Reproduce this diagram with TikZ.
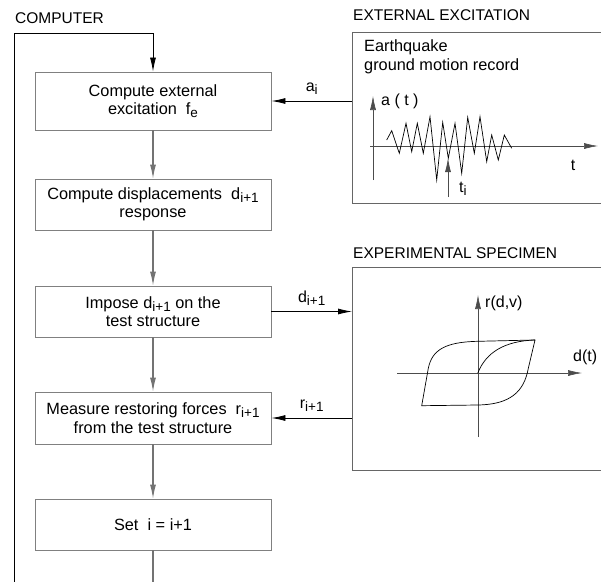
\documentclass[tikz,border=0pt]{standalone}
\usepackage{fontspec}
\setmainfont{Liberation Sans}
\usetikzlibrary{arrows.meta}
\newcommand\sbs[1]{\raisebox{-0.35ex}{\fontsize{13.5}{13.5}\selectfont #1}}
\tikzset{
  tip/.style={-{Latex[length=14pt,width=6pt]}},
  stepbox/.style={draw=black!50, line width=0.9pt, minimum width=236pt, minimum height=52pt, align=center, font=\fontsize{16.3}{18.5}\selectfont, inner sep=0pt},
  flow/.style={draw=black!55, line width=1.1pt, tip},
  link/.style={draw=black, line width=0.8pt, tip},
  frame/.style={draw=black!60, line width=0.9pt},
  title/.style={anchor=west, font=\fontsize{15.5}{17}\selectfont, inner sep=0pt},
  lbl/.style={font=\fontsize{16}{18}\selectfont, inner sep=0pt},
  axis/.style={draw=black!70, line width=0.6pt},
}
\begin{document}
\begin{tikzpicture}[x=1pt,y=-1pt]
\useasboundingbox (0,0) rectangle (601,581);
% titles
\node[title] (tcomp) at (15,18) {COMPUTER};
\node[title] (text) at (353,15) {EXTERNAL EXCITATION};
\node[title] (tspec) at (353,253) {EXPERIMENTAL SPECIMEN};
% boxes
\node[stepbox, minimum height=58pt] (b1) at (153,101) {Compute external\\excitation\ \ f\sbs{e}};
\node[stepbox, minimum height=51pt] (b2) at (153,204.5) {Compute displacements\ \ d\sbs{i+1}\\response};
\node[stepbox, minimum height=51pt] (b3) at (153,311.5) {Impose d\sbs{i+1} on the\\test structure};
\node[stepbox, minimum height=52pt] (b4) at (153,418) {Measure restoring forces\ \ r\sbs{i+1}\\from the test structure};
\node[stepbox, minimum height=51pt] (b5) at (153,524.5) {Set\ \ i = i+1};
% flow arrows
\draw[flow] (b1.south) -- (b2.north);
\draw[flow] (b2.south) -- (b3.north);
\draw[flow] (b3.south) -- (b4.north);
\draw[flow] (b4.south) -- (b5.north);
% loop
\coordinate (lb) at (153,582);
\coordinate (ll) at (14,582);
\coordinate (tl) at (14,33);
\coordinate (tr) at (153,33);
\draw[draw=black!55, line width=1.1pt] (b5.south) -- (lb);
\draw[draw=black, line width=1pt] (ll) -- (tl) -- (tr);
\draw[draw=black, line width=0.8pt, tip] (tr) -- (b1.north);
% external boxes
\node[frame, minimum width=252pt, minimum height=171pt, anchor=north west, inner sep=0pt] (ext) at (352,32) {};
\node[frame, minimum width=252pt, minimum height=203pt, anchor=north west, inner sep=0pt] (spec) at (352,267) {};
% links
\draw[link] (ext.west |- b1.east) -- node[lbl, above=6pt] (la) {a\sbs{i}} (b1.east);
\draw[link] (b3.east) -- node[lbl, above=6pt] (ld) {d\sbs{i+1}} (spec.west |- b3.east);
\draw[link] (spec.west |- b4.east) -- node[lbl, above=6pt] (lr) {r\sbs{i+1}} (b4.east);
% excitation contents
\node[lbl, anchor=west, align=left, font=\fontsize{16.3}{19}\selectfont] (eq) at (364,57) {Earthquake\\ground motion record};
\coordinate (ay0) at (373,180);
\coordinate (ay1) at (373,96);
\coordinate (ax0) at (370,146);
\coordinate (ax1) at (598,146);
\draw[axis, tip] (ay0) -- (ay1);
\draw[axis, tip] (ax0) -- (ax1);
\node[lbl, anchor=west] (lat) at (381,101) {a ( t )};
\node[lbl] (lt) at (573,165) {t};
\draw[black, line width=0.7pt, line join=miter]
  (386.7,140) -- (391.7,130.7) -- (399.3,153.3) -- (406,123.3) -- (411.7,151.7)
  -- (417.3,123.3) -- (423.3,153.3) -- (430,116.7) -- (436.7,180) -- (442.7,122.3)
  -- (448.3,158.3) -- (455,123.3) -- (461.7,173.3) -- (467.7,117.3) -- (474.3,153.3)
  -- (480,116.7) -- (486.7,161.7) -- (491.7,135) -- (498.3,160) -- (504.3,135) -- (511.7,148.3);
\coordinate (ti0) at (448,197);
\coordinate (ti1) at (448,158);
\draw[axis, line width=0.8pt, tip] (ti0) -- (ti1);
\node[lbl, anchor=west] (lti) at (459,189) {t\sbs{i}};
% specimen contents
\coordinate (ry0) at (478,437);
\coordinate (ry1) at (478,295);
\coordinate (rx0) at (397,373);
\coordinate (rx1) at (582,373);
\draw[axis, tip] (ry0) -- (ry1);
\draw[axis, tip] (rx0) -- (rx1);
\node[lbl, anchor=west] (lrv) at (485,303) {r(d,v)};
\node[lbl, anchor=west] (ldt) at (573,357) {d(t)};
\draw[black, line width=0.7pt]
  (535,340) -- (477.7,341.3) .. controls (445,342) and (432,350) .. (428.3,368.3)
  -- (421.7,405.7) -- (477.7,405) .. controls (510,404.5) and (524,392) .. (528.3,368.3)
  -- cycle;
\draw[black, line width=0.7pt] (477.7,373.3) .. controls (486,352) and (505,341) .. (535,340);
\end{tikzpicture}
\end{document}
